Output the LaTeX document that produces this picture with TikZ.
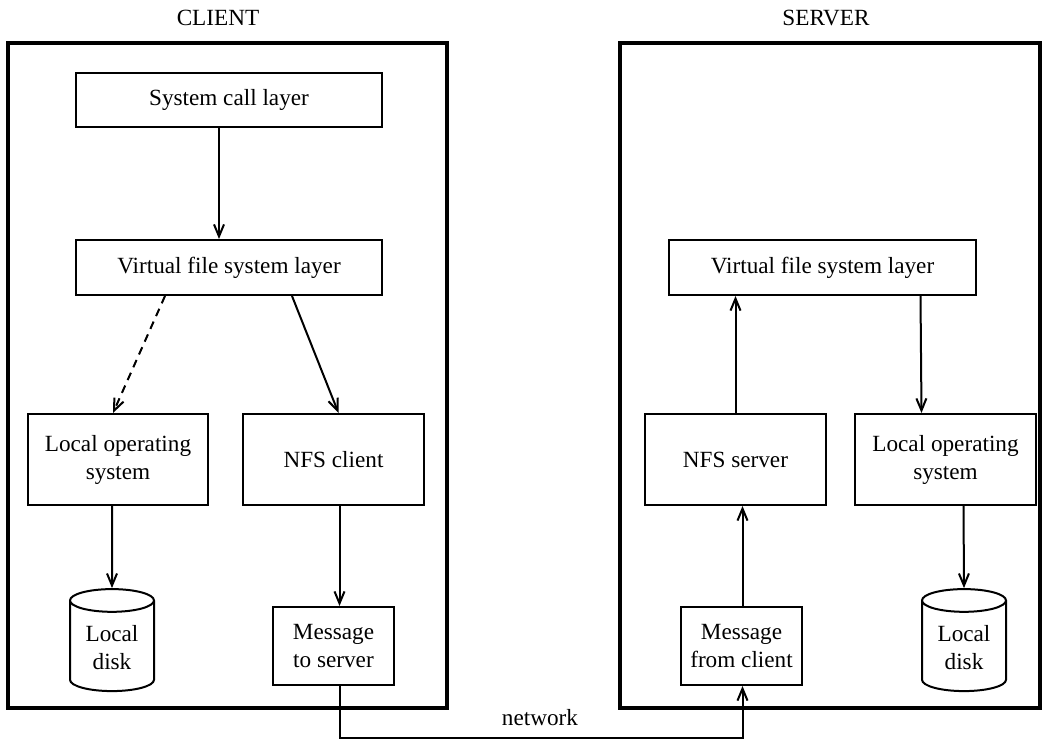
\documentclass[tikz,border=0pt]{standalone}
\usepackage{fontspec}
\setmainfont{Liberation Serif}
\usetikzlibrary{arrows.meta,shapes.geometric}

\begin{document}
\begin{tikzpicture}[x=0.5pt, y=-0.5pt, line width=1pt,
    layer/.style={draw, rectangle, align=center, inner sep=2pt},
    disk/.style={draw, cylinder, shape border rotate=90, aspect=0.4,
      minimum width=42pt, minimum height=51pt, align=center, inner sep=1pt},
    machine/.style={line width=2pt},
    flow/.style={-{Straight Barb[length=6pt, width=5pt]}},
    font=\fontsize{11.6}{14}\selectfont]

  \useasboundingbox (0,0) rectangle (1048,739);

  % -- Machines --
  \node (clientlbl) at (218,18) {CLIENT};
  \node (serverlbl) at (826,18) {SERVER};
  \draw[machine] (8,43) rectangle (447,708);
  \draw[machine] (620,43) rectangle (1040,708);

  % -- Client side --
  \node[layer, minimum width=153pt, minimum height=27pt] (sysc) at (229,100) {System call layer};
  \node[layer, minimum width=153pt, minimum height=27.5pt] (cvfs) at (229,267.5) {Virtual file system layer};
  \node[layer, minimum width=90pt, minimum height=45.5pt] (clos) at (118,459.5) {Local operating\\system};
  \node[layer, minimum width=90.5pt, minimum height=45.5pt] (nfsc) at (333.5,459.5) {NFS client};
  \node[disk] (cdisk) at (112,648) {Local\\disk};
  \node[layer, minimum width=60.5pt, minimum height=39pt] (msgs) at (333.5,646) {Message\\to server};

  \draw[flow] ([xshift=-5pt]sysc.south) -- ([xshift=-5pt]cvfs.north);
  \draw[flow, dash pattern=on 4pt off 3pt] ([xshift=-32pt]cvfs.south) -- ([xshift=-2.5pt]clos.north);
  \draw[flow] ([xshift=31.5pt]cvfs.south) -- ([xshift=2.5pt]nfsc.north);
  \draw[flow] ([xshift=-3pt]clos.south) -- (cdisk.north);
  \draw[flow] ([xshift=3pt]nfsc.south) -- ([xshift=3pt]msgs.north);

  % -- Server side --
  \node[layer, minimum width=153.5pt, minimum height=27.5pt] (svfs) at (822.5,267.5) {Virtual file system layer};
  \node[layer, minimum width=90.5pt, minimum height=45.5pt] (nfss) at (735.5,459.5) {NFS server};
  \node[layer, minimum width=90.5pt, minimum height=45.5pt] (slos) at (945.5,459.5) {Local operating\\system};
  \node[layer, minimum width=60.5pt, minimum height=39pt] (msgc) at (741.5,646) {Message\\from client};
  \node[disk] (sdisk) at (964,648) {Local\\disk};

  \draw[flow] ([xshift=0.5pt]msgc.north) -- ([xshift=3.5pt]nfss.south);
  \draw[flow] (nfss.north) -- ([xshift=-43.5pt]svfs.south);
  \draw[flow] ([xshift=49pt]svfs.south) -- ([xshift=-12pt]slos.north);
  \draw[flow] ([xshift=9pt]slos.south) -- (sdisk.north);

  % -- Network --
  \coordinate (net) at (540,738);
  \draw[flow] ([xshift=3pt]msgs.south) |- (net) -| ([xshift=0.5pt]msgc.south);
  \node (netlbl) at (540,718) {network};

\end{tikzpicture}
\end{document}
